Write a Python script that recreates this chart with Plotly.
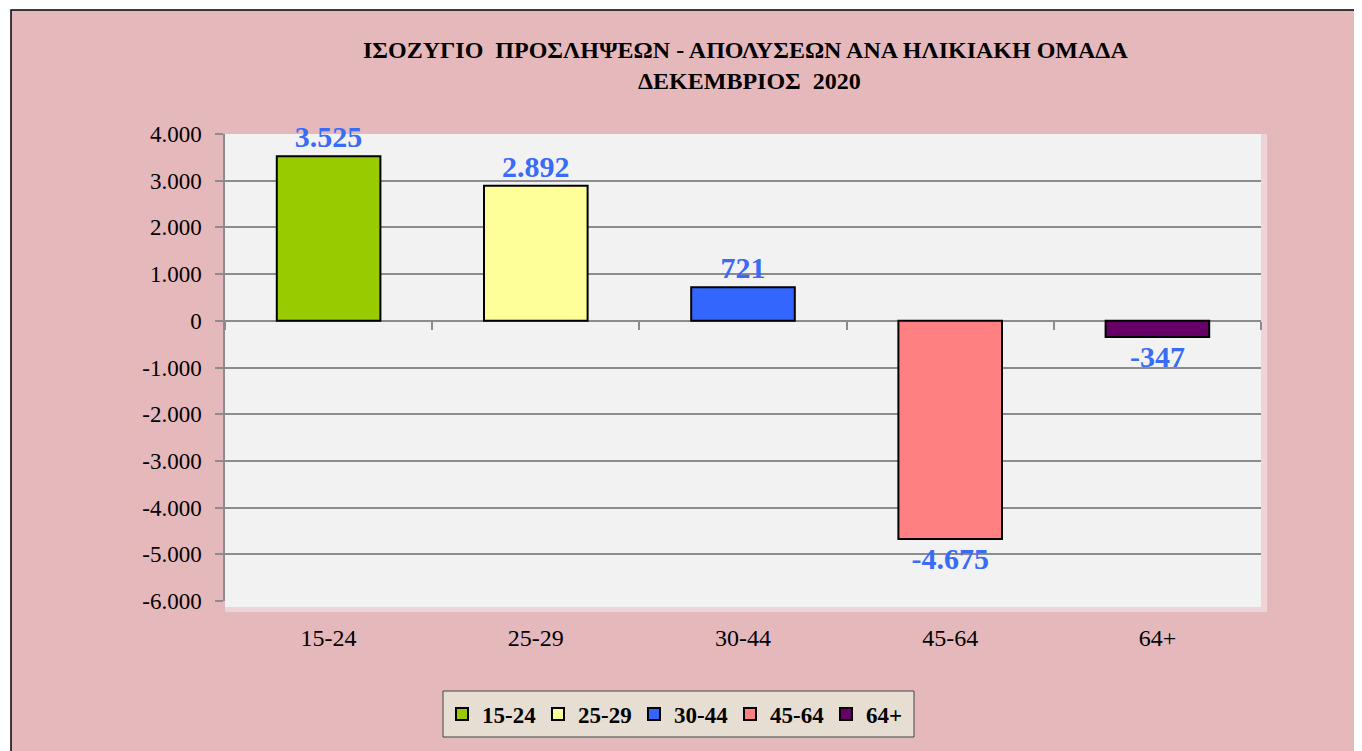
import plotly.graph_objects as go

categories = ["15-24", "25-29", "30-44", "45-64", "64+"]
values = [3525, 2892, 721, -4675, -347]
colors = ["#99CC00", "#FFFF99", "#3366FF", "#FF8080", "#660066"]
ytick_vals = [4000, 3000, 2000, 1000, 0, -1000, -2000, -3000, -4000, -5000, -6000]
ytick_text = ["4.000", "3.000", "2.000", "1.000", "0", "-1.000", "-2.000", "-3.000",
              "-4.000", "-5.000", "-6.000"]
title_lines = ["ΙΣΟΖΥΓΙΟ  ΠΡΟΣΛΗΨΕΩΝ - ΑΠΟΛΥΣΕΩΝ ΑΝΑ ΗΛΙΚΙΑΚΗ ΟΜΑΔΑ", "ΔΕΚΕΜΒΡΙΟΣ  2020"]

OFF = 8  # page body margin
W, H = 1362 - OFF, 751 - OFF
ML, MT = 225 - OFF, 134 - OFF
MR = 1362 - 1261
MB = 751 - 601
PW, PH = W - ML - MR, H - MT - MB


def px_x(px):
    return (px - OFF - ML) / PW


def px_y(py):
    return (H - MB - (py - OFF)) / PH


FONT = "Liberation Serif"

fig = go.Figure()
# invisible helper trace so the bottom category axis (labels) is drawn
fig.add_trace(go.Scatter(x=categories, y=[None] * len(categories), xaxis="x",
                         showlegend=False, hoverinfo="skip", mode="markers"))
for c, v, col in zip(categories, values, colors):
    label = f"{v:,}".replace(",", ".")
    fig.add_trace(go.Bar(
        x=[c], y=[v], name=c, xaxis="x2",
        marker=dict(color=col, line=dict(color="#000000", width=2)),
        text=[label], textposition="outside", cliponaxis=False,
        textfont=dict(family=FONT, size=30, color="#3A6BF5", weight="bold"),
        hoverinfo="skip",
    ))

shapes = [
    # pink chart frame
    dict(type="rect", xref="paper", yref="paper", layer="below",
         x0=px_x(11), x1=px_x(1362 + 5), y0=px_y(751 + 5), y1=px_y(10),
         fillcolor="#E5B8BC", line=dict(color="#000000", width=1.5)),
    # soft light halo around plot area
    dict(type="rect", xref="paper", yref="paper", layer="below",
         x0=0, x1=px_x(1267), y0=px_y(612), y1=1, fillcolor="#EDD5D7", line=dict(width=0)),
    # plot area (light grey)
    dict(type="rect", xref="paper", yref="paper", layer="below",
         x0=0, x1=1, y0=px_y(607), y1=1, fillcolor="#F2F2F2", line=dict(width=0)),
    # legend box
    dict(type="rect", xref="paper", yref="paper", layer="below",
         x0=px_x(443), x1=px_x(914), y0=px_y(737), y1=px_y(691),
         fillcolor="#E6DDD3", line=dict(color="#444444", width=1)),
]

annotations = [
    dict(text="<b>" + title_lines[0] + "</b>", xref="paper", yref="paper",
         x=px_x(745), y=px_y(50), xanchor="center", yanchor="middle", showarrow=False,
         font=dict(family=FONT, size=24, color="#000000")),
    dict(text="<b>" + title_lines[1] + "</b>", xref="paper", yref="paper",
         x=px_x(749), y=px_y(81), xanchor="center", yanchor="middle", showarrow=False,
         font=dict(family=FONT, size=24, color="#000000")),
]

fig.update_layout(
    width=W, height=H,
    margin=dict(l=ML, r=MR, t=MT, b=MB, autoexpand=False),
    paper_bgcolor="#FFFFFF",
    plot_bgcolor="rgba(0,0,0,0)",
    bargap=0.5,
    showlegend=True,
    legend=dict(orientation="h", x=px_x(682), y=px_y(714), xanchor="center", yanchor="middle",
                bgcolor="rgba(0,0,0,0)", borderwidth=0,
                font=dict(family=FONT, size=23, color="#000000", weight="bold"),
                itemwidth=30, traceorder="normal", entrywidth=51),
    shapes=shapes,
    annotations=annotations,
    xaxis=dict(type="category", categoryorder="array", categoryarray=categories,
               range=[-0.5, 4.5], showgrid=False, showline=False, ticks="",
               ticklabelstandoff=20,
               tickfont=dict(family=FONT, size=24, color="#000000"), zeroline=False),
    xaxis2=dict(type="category", categoryorder="array", categoryarray=categories,
                range=[-0.5, 4.5], overlaying="x", anchor="free", position=0.6,
                showticklabels=False, ticks="outside", tickson="boundaries", ticklen=8,
                tickcolor="#8C8C8C", tickwidth=1.5, showgrid=False, showline=False),
    yaxis=dict(range=[-6000, 4000], tickvals=ytick_vals, ticktext=ytick_text,
               showgrid=True, gridcolor="#8C8C8C", gridwidth=1.5,
               zeroline=True, zerolinecolor="#8C8C8C", zerolinewidth=1.5,
               showline=True, linecolor="#8C8C8C", linewidth=1.5,
               ticks="outside", ticklen=8, tickcolor="#8C8C8C", tickwidth=1.5,
               ticklabelstandoff=9,
               tickfont=dict(family=FONT, size=23, color="#000000")),
)

fig.write_html("out.html")
